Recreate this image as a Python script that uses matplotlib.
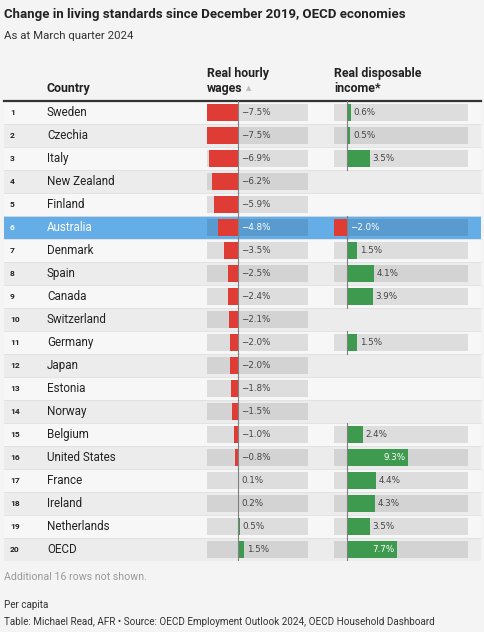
import matplotlib.pyplot as plt
from matplotlib.patches import Rectangle

countries = ["Sweden", "Czechia", "Italy", "New Zealand", "Finland", "Australia",
             "Denmark", "Spain", "Canada", "Switzerland", "Germany", "Japan",
             "Estonia", "Norway", "Belgium", "United States", "France", "Ireland",
             "Netherlands", "OECD"]
wages = [-7.5, -7.5, -6.9, -6.2, -5.9, -4.8, -3.5, -2.5, -2.4, -2.1,
         -2.0, -2.0, -1.8, -1.5, -1.0, -0.8, 0.1, 0.2, 0.5, 1.5]
income = [0.6, 0.5, 3.5, None, None, -2.0, 1.5, 4.1, 3.9, None,
          1.5, None, None, None, 2.4, 9.3, 4.4, 4.3, 3.5, 7.7]
highlight = "Australia"

W, H = 485, 632
BG = "#f4f4f4"
ROW_A = "#f7f7f7"
ROW_B = "#ececec"
HL = "#64ade6"
RED = "#e03c36"
GREEN = "#3e9a4f"
FONT = "Roboto"

plt.rcParams["font.family"] = [FONT, "DejaVu Sans"]

fig = plt.figure(figsize=(W / 100, H / 100), dpi=100, facecolor=BG)


def px_axes(x0, y0, x1, y1):
    return fig.add_axes([x0 / W, 1 - y1 / H, (x1 - x0) / W, (y1 - y0) / H])


n = len(countries)
top, rh = 101, 23

# background / table axes in pixel units
bg = px_axes(0, 0, W, H)
bg.set_xlim(0, W)
bg.set_ylim(H, 0)
bg.axis("off")

for i, c in enumerate(countries):
    y0 = top + i * rh
    col = HL if c == highlight else (ROW_A if i % 2 == 0 else ROW_B)
    bg.add_patch(Rectangle((4, y0), 477, rh, color=col, lw=0))
    if i > 0:
        bg.plot([4, 481], [y0, y0], color="#e0e0e0", lw=0.6)
    tc = "white" if c == highlight else "#222222"
    yc = y0 + rh / 2
    bg.text(10, yc, str(i + 1), fontsize=6, fontweight="bold", color=tc, va="center")
    bg.text(47, yc, c, fontsize=8.4, color=tc, va="center")

bg.plot([4, 481], [top, top], color="#333333", lw=1.6)

hdr = dict(fontsize=8.9, fontweight="bold", color="#222222", va="baseline")
bg.text(4, 18, "Change in living standards since December 2019, OECD economies",
        fontsize=9.5, fontweight="bold", color="#222222", va="baseline")
bg.text(4, 39, "As at March quarter 2024", fontsize=8.2, color="#333333", va="baseline")
bg.text(47, 92, "Country", **hdr)
bg.text(207, 77, "Real hourly", **hdr)
bg.text(207, 92, "wages", **hdr)
bg.text(246, 90, "▲", fontsize=5, color="#bbbbbb", va="baseline", family="DejaVu Sans")
bg.text(334, 77, "Real disposable", **hdr)
bg.text(334, 92, "income*", **hdr)
bg.text(4, 580, "Additional 16 rows not shown.", fontsize=7.7, color="#999999", va="baseline")
bg.text(4, 608, "Per capita", fontsize=7.1, color="#333333", va="baseline")
bg.text(4, 625, "Table: Michael Read, AFR \u2022 Source: OECD Employment Outlook 2024, OECD Household Dashboard",
        fontsize=7.1, color="#333333", va="baseline")


def bar_column(ax, values, xlim, inside_min):
    ax.set_xlim(*xlim)
    ax.set_ylim(n, 0)
    ax.axis("off")
    span = xlim[1] - xlim[0]
    for i, v in enumerate(values):
        if v is None:
            continue
        yc = i + 0.5
        hl = countries[i] == highlight
        ax.barh(yc, span, left=xlim[0], height=0.7, color="black", alpha=0.1, lw=0)
        ax.barh(yc, v, height=0.7, color=RED if v < 0 else GREEN, lw=0)
        ax.plot([0, 0], [i, i + 1], color="#808080", lw=0.8)
        txt = f"{v:.1f}%".replace("-", "\u2212")
        tc = "white" if hl else "#444444"
        if v >= inside_min:
            ax.annotate(txt, (v, yc), xytext=(-2, 0), textcoords="offset points",
                        ha="right", va="center", fontsize=6.3, color="white",
                        family="DejaVu Sans")
        else:
            ax.annotate(txt, (max(v, 0), yc), xytext=(2, 0), textcoords="offset points",
                        ha="left", va="center", fontsize=6.3, color=tc,
                        family="DejaVu Sans")


ax_w = px_axes(207, top, 308, top + n * rh)
bar_column(ax_w, wages, (-7.5, 16.94), 6)

ax_i = px_axes(334, top, 468, top + n * rh)
bar_column(ax_i, income, (-2.0, 18.47), 6)

fig.savefig("out.png", dpi=100, facecolor=BG)
